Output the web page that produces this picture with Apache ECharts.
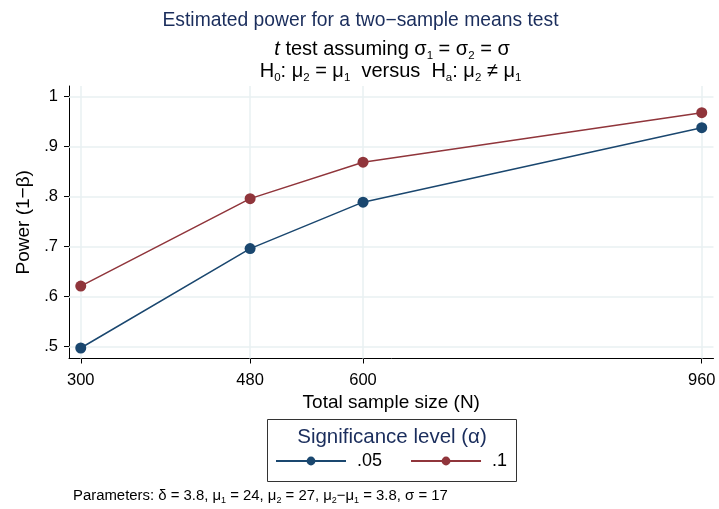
<!DOCTYPE html>
<html>
<head>
<meta charset="utf-8">
<script src="https://cdn.jsdelivr.net/npm/echarts@6/dist/echarts.min.js"></script>
<style>html,body{margin:0;padding:0;background:#fff}#c{width:719px;height:509px}</style>
</head>
<body>
<div id="c"></div>
<script>
var sampleSizes = [300, 480, 600, 960];
var power05 = [0.497, 0.696, 0.789, 0.938];
var power10 = [0.621, 0.796, 0.869, 0.968];
var xTicks = [300, 480, 600, 960];
var yTicks = [0.5, 0.6, 0.7, 0.8, 0.9, 1.0];
var seriesNames = ['.05', '.1'];

var FONT = 'Liberation Sans, Arial, Helvetica, sans-serif';
var NAVY = '#1a2d5c';
var BLUE = '#1a476f';
var RED = '#90353b';
var GRID = '#e9f0f2';

function pairs(xs, ys) { return xs.map(function (x, i) { return [x, ys[i]]; }); }
function yLab(v) { return v >= 1 ? '1' : ('' + (+v.toFixed(1))).replace(/^0/, ''); }

var chart = echarts.init(document.getElementById('c'), null, {renderer: 'canvas'});
var subRich = {
  m: {fontSize: 20, fontFamily: FONT, color: '#000', lineHeight: 22},
  i: {fontSize: 20, fontFamily: FONT, color: '#000', fontStyle: 'italic', lineHeight: 22},
  s: {fontSize: 11.5, fontFamily: FONT, color: '#000', lineHeight: 26, verticalAlign: 'bottom'}
};
var parRich = {
  m: {fontSize: 14.9, fontFamily: FONT, color: '#000', lineHeight: 16},
  s: {fontSize: 9, fontFamily: FONT, color: '#000', lineHeight: 19, verticalAlign: 'bottom'}
};

var option = {
  backgroundColor: '#fff',
  animation: false,
  grid: {left: 69, right: 5.5, top: 86, bottom: 150.5, containLabel: false},
  xAxis: {
    type: 'value', min: 287.5, max: 972.5,
    name: 'Total sample size (N)', nameLocation: 'middle', nameGap: 29,
    nameTextStyle: {fontSize: 19, fontFamily: FONT, color: '#000'},
    axisLine: {show: true, onZero: false, lineStyle: {color: '#000', width: 1}},
    axisTick: {show: true, customValues: xTicks, length: 5, lineStyle: {color: '#000'}},
    axisLabel: {customValues: xTicks, fontSize: 16.5, fontFamily: FONT, color: '#000', margin: 13},
    splitLine: {show: false}
  },
  yAxis: {
    type: 'value', min: 0.476, max: 1.0215,
    name: 'Power (1\u2212\u03b2)', nameLocation: 'middle', nameGap: 36,
    nameTextStyle: {fontSize: 19, fontFamily: FONT, color: '#000'},
    axisLine: {show: true, onZero: false, lineStyle: {color: '#000', width: 1}},
    axisTick: {show: true, customValues: yTicks, length: 5, lineStyle: {color: '#000'}},
    axisLabel: {customValues: yTicks, formatter: yLab, fontSize: 16.5, fontFamily: FONT, color: '#000', margin: 11},
    splitLine: {show: false}
  },
  legend: {
    data: seriesNames, left: 275, top: 452, padding: 0, itemWidth: 70, itemHeight: 11, itemGap: 28,
    textStyle: {fontSize: 18, fontFamily: FONT, color: '#000', padding: [0, 0, 0, 6]}
  },
  series: [
    {
      type: 'line', name: 'grid', data: [], silent: true, z: 1,
      markLine: {
        silent: true, symbol: 'none', label: {show: false}, z: 1,
        lineStyle: {color: GRID, width: 1.5, type: 'solid'},
        animation: false,
        data: xTicks.map(function (v) { return {xAxis: v}; }).concat(yTicks.map(function (v) { return {yAxis: v}; }))
      }
    },
    {
      type: 'line', name: seriesNames[0], data: pairs(sampleSizes, power05), z: 3,
      symbol: 'circle', symbolSize: 11, lineStyle: {color: BLUE, width: 1.5}, itemStyle: {color: BLUE}
    },
    {
      type: 'line', name: seriesNames[1], data: pairs(sampleSizes, power10), z: 3,
      symbol: 'circle', symbolSize: 11, lineStyle: {color: RED, width: 1.5}, itemStyle: {color: RED}
    }
  ],
  graphic: [
    {type: 'text', x: 360.5, y: 21, style: {text: 'Estimated power for a two\u2212sample means test', fontSize: 19.3, fontFamily: FONT, fill: NAVY, align: 'center', verticalAlign: 'middle'}},
    {type: 'text', x: 392, y: 49, style: {
      text: '{i|t}{m| test assuming \u03c3}{s|1}{m| = \u03c3}{s|2}{m| = \u03c3}',
      rich: subRich, align: 'center', verticalAlign: 'middle'}},
    {type: 'text', x: 390.5, y: 71, style: {
      text: '{m|H}{s|0}{m|: \u03bc}{s|2}{m| = \u03bc}{s|1}{m|  versus  H}{s|a}{m|: \u03bc}{s|2}{m| \u2260 \u03bc}{s|1}',
      rich: subRich, align: 'center', verticalAlign: 'middle'}},
    {type: 'rect', shape: {x: 267.5, y: 419.5, width: 249, height: 62}, style: {fill: '#fff', stroke: '#333', lineWidth: 1}, z: -1},
    {type: 'text', x: 392, y: 437, style: {text: 'Significance level (\u03b1)', fontSize: 20.5, fontFamily: FONT, fill: NAVY, align: 'center', verticalAlign: 'middle'}},
    {type: 'text', x: 73, y: 496, style: {
      text: '{m|Parameters: \u03b4 = 3.8, \u03bc}{s|1}{m| = 24, \u03bc}{s|2}{m| = 27, \u03bc}{s|2}{m|\u2212\u03bc}{s|1}{m| = 3.8, \u03c3 = 17}',
      rich: parRich, align: 'left', verticalAlign: 'middle'}}
  ]
};
chart.setOption(option);
</script>
</body>
</html>
